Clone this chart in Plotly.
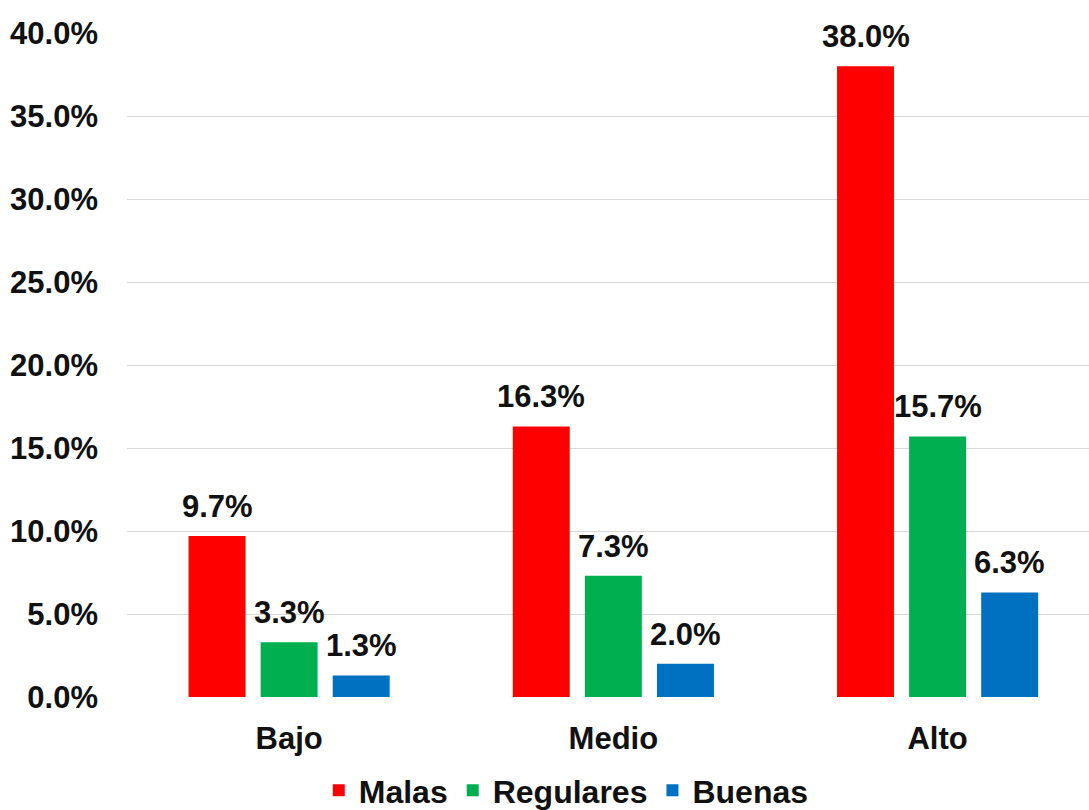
import plotly.graph_objects as go

categories = ["Bajo", "Medio", "Alto"]
series_names = ["Malas", "Regulares", "Buenas"]
malas = [9.7, 16.3, 38.0]
regulares = [3.3, 7.3, 15.7]
buenas = [1.3, 2.0, 6.3]
colors = ["#FF0000", "#00B050", "#0070C0"]
y_ticks = [0, 5, 10, 15, 20, 25, 30, 35, 40]
y_tick_labels = [f"{v:.1f}%" for v in y_ticks]

FONT = "Liberation Sans"
FS = 31
BAR_STEP_PX = 72  # horizontal distance between bars within a group

fig = go.Figure()
series = [malas, regulares, buenas]
for name, vals, col in zip(series_names, series, colors):
    fig.add_trace(go.Bar(
        name=name, x=categories, y=vals, marker=dict(color=col, line=dict(width=0)),
        cliponaxis=False,
    ))

annotations = []
for i, vals in enumerate(series):
    for cat, v in zip(categories, vals):
        annotations.append(dict(
            x=cat, y=v, xref="x", yref="y", text=f"{v:.1f}%", showarrow=False,
            xanchor="center", yanchor="bottom", xshift=(i - 1) * BAR_STEP_PX, yshift=10,
            font=dict(family=FONT, size=FS, color="#111111", weight="bold"),
        ))

fig.update_layout(
    width=1089, height=810,
    margin=dict(l=127, r=0, t=33, b=113, autoexpand=False),
    paper_bgcolor="white", plot_bgcolor="white",
    barmode="group", bargap=0.333, bargroupgap=0.21,
    font=dict(family=FONT, size=FS, color="#111111", weight="bold"),
    annotations=annotations,
    legend=dict(orientation="h", x=0.52, xref="container", xanchor="center",
                y=0.024, yref="container", yanchor="middle",
                font=dict(size=32, weight="bold"), traceorder="normal",
                itemclick=False, tracegroupgap=0),
    showlegend=True,
)
fig.update_xaxes(range=[-0.5, 2.467], showgrid=False, showline=False, ticks="",
                 tickfont=dict(size=FS, weight="bold"), ticklabelstandoff=20)
fig.update_yaxes(range=[0, 40], tickvals=y_ticks, ticktext=y_tick_labels,
                 showgrid=True, gridcolor="#D9D9D9", gridwidth=1, zeroline=False,
                 tickfont=dict(size=FS, weight="bold"), ticklabelstandoff=28)

fig.write_html("out.html")
